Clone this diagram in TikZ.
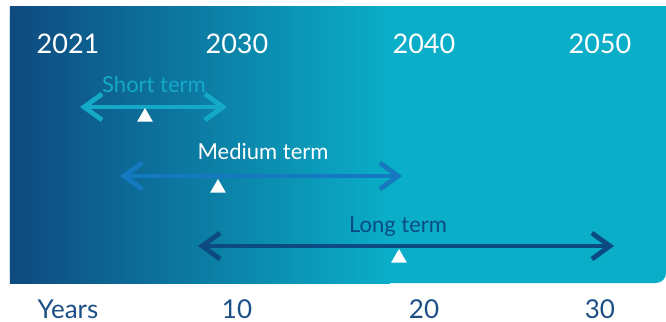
\documentclass[tikz,border=0pt]{standalone}
\usepackage{fontspec}
\setmainfont{Lato}
\usepackage{xcolor}
\definecolor{bgdark}{RGB}{14,74,127}
\definecolor{bgcyan}{RGB}{10,174,200}
\definecolor{shortcyan}{RGB}{21,169,200}
\definecolor{mediumblue}{RGB}{20,121,191}
\definecolor{longnavy}{RGB}{12,74,130}
\definecolor{axisnavy}{RGB}{27,79,134}
\usepackage{tikz}
\usetikzlibrary{arrows.meta,shapes.geometric}

\begin{document}
\begin{tikzpicture}[x=0.5pt,y=-0.5pt,
year/.style={text=white,anchor=base,font=\fontsize{13.5}{16}\selectfont,inner sep=0pt},
term/.style={anchor=base,font=\fontsize{11}{13}\selectfont,inner sep=0pt},
axis/.style={text=axisnavy,anchor=base,font=\fontsize{13}{15}\selectfont,inner sep=0pt},
span/.style={{Straight Barb[length=9pt,width=13pt]}-{Straight Barb[length=9pt,width=13pt]},line width=2.4pt},
tri/.style={regular polygon,regular polygon sides=3,fill=white,inner sep=0pt,minimum size=9pt}]
\useasboundingbox (0,0) rectangle (666,322);
% background
\fill[bgcyan,rounded corners=5pt] (10,6) rectangle (666,283);
\fill[bgcyan] (10,6) rectangle (656,283);
\fill[bgcyan] (10,6) rectangle (666,273);
\shade[left color=bgdark,right color=bgcyan] (10,6) rectangle (390,283);
% years on top
\node[year] (y2021) at (68,53) {2021};
\node[year] (y2030) at (237,53) {2030};
\node[year] (y2040) at (424,53) {2040};
\node[year] (y2050) at (600,53) {2050};
% short term
\coordinate (s1) at (80,107);
\coordinate (s2) at (227,107);
\draw[span,draw=shortcyan] (s1)--(s2);
\node[term,text=shortcyan] (short) at (154,92) {Short term};
\node[tri] (ts) at (145,117) {};
% medium term
\coordinate (m1) at (120,176);
\coordinate (m2) at (402,176);
\draw[span,draw=mediumblue] (m1)--(m2);
\node[term,text=white] (medium) at (263,159) {Medium term};
\node[tri] (tm) at (218,188) {};
% long term
\coordinate (l1) at (198,246);
\coordinate (l2) at (614,246);
\draw[span,draw=longnavy] (l1)--(l2);
\node[term,text=longnavy] (long) at (398,232) {Long term};
\node[tri] (tl) at (399,258) {};
% years axis
\node[axis] (years) at (68,318) {Years};
\node[axis] (a10) at (237,318) {10};
\node[axis] (a20) at (424,318) {20};
\node[axis] (a30) at (600,318) {30};
\end{tikzpicture}
\end{document}
